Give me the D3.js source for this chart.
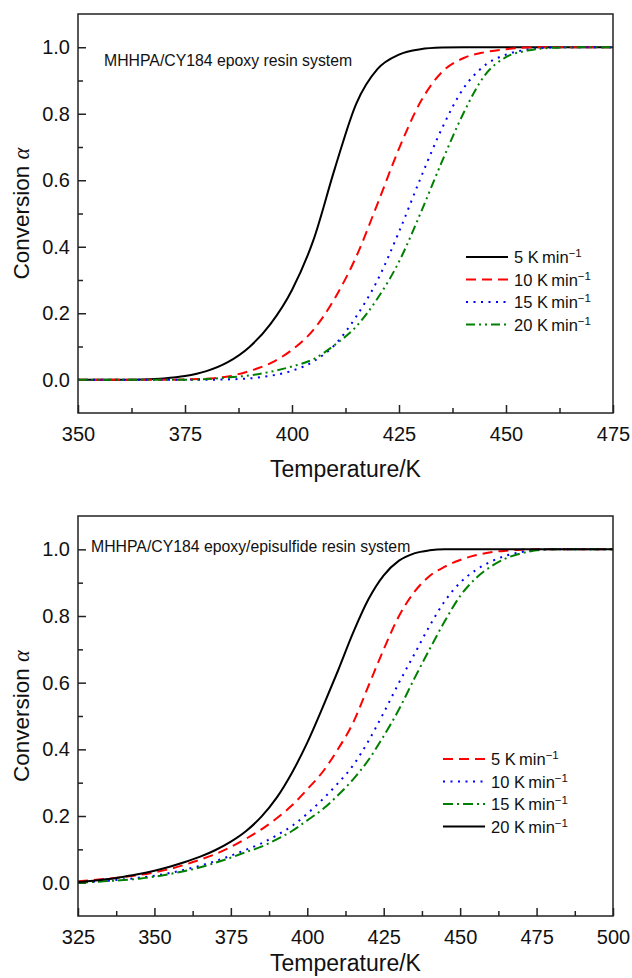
<!DOCTYPE html>
<html>
<head>
<meta charset="utf-8">
<script src="https://cdn.jsdelivr.net/npm/d3@7"></script>
<style>
  html, body { margin: 0; padding: 0; background: #fff; }
  text { font-family: "Liberation Sans", Arial, Helvetica, sans-serif; fill: #111; }
</style>
</head>
<body>
<svg id="chart"></svg>
<script>
// ============================================================================
// Data
// ============================================================================

// Top panel: MHHPA/CY184 epoxy resin system
const tempTop = [350, 355, 360, 365, 370, 375, 380, 385, 390, 395, 400, 405, 410,
  415, 420, 425, 430, 435, 440, 445, 450, 455, 460, 465, 470, 475];
const epoxy5 = [0, 0, 0, 0.001, 0.004, 0.011, 0.026, 0.053, 0.098, 0.168, 0.27, 0.42, 0.635,
  0.83, 0.935, 0.978, 0.994, 0.999, 1, 1, 1, 1, 1, 1, 1, 1];
const epoxy10 = [0, 0, 0, 0, 0, 0.001, 0.003, 0.01, 0.026, 0.05, 0.09, 0.15, 0.245,
  0.37, 0.53, 0.695, 0.835, 0.925, 0.967, 0.985, 0.994, 0.999, 1, 1, 1, 1];
const epoxy15 = [0, 0, 0, 0, 0, 0, 0, 0.001, 0.004, 0.012, 0.027, 0.055, 0.105,
  0.19, 0.3, 0.445, 0.605, 0.755, 0.875, 0.945, 0.978, 0.993, 0.999, 1, 1, 1];
const epoxy20 = [0, 0, 0, 0, 0, 0, 0.002, 0.007, 0.013, 0.024, 0.04, 0.062, 0.105,
  0.16, 0.245, 0.355, 0.5, 0.655, 0.8, 0.915, 0.97, 0.99, 0.998, 1, 1, 1];

// Bottom panel: MHHPA/CY184 epoxy/episulfide resin system
const tempBottom = [325, 330, 335, 340, 345, 350, 355, 360, 365, 370, 375, 380, 385,
  390, 395, 400, 405, 410, 415, 420, 425, 430, 435, 440, 445, 450, 455, 460, 465,
  470, 475, 480, 485, 490, 495, 500];
const episulfide5 = [0.004, 0.008, 0.012, 0.017, 0.023, 0.031, 0.041, 0.054, 0.069, 0.086,
  0.107, 0.132, 0.16, 0.193, 0.232, 0.28, 0.332, 0.4, 0.48, 0.59, 0.7, 0.8, 0.872, 0.92,
  0.948, 0.968, 0.982, 0.991, 0.996, 0.999, 1, 1, 1, 1, 1, 1];
const episulfide10 = [0.001, 0.003, 0.006, 0.01, 0.015, 0.021, 0.029, 0.039, 0.051, 0.065,
  0.081, 0.099, 0.118, 0.142, 0.17, 0.207, 0.25, 0.298, 0.352, 0.425, 0.51, 0.6, 0.685,
  0.77, 0.845, 0.9, 0.937, 0.963, 0.981, 0.992, 0.998, 1, 1, 1, 1, 1];
const episulfide15 = [0, 0.002, 0.005, 0.008, 0.012, 0.018, 0.026, 0.035, 0.046, 0.06,
  0.075, 0.092, 0.108, 0.13, 0.155, 0.187, 0.22, 0.262, 0.31, 0.368, 0.44, 0.52, 0.612,
  0.7, 0.785, 0.86, 0.912, 0.948, 0.973, 0.988, 0.997, 1, 1, 1, 1, 1];
const episulfide20 = [0.002, 0.006, 0.011, 0.018, 0.026, 0.036, 0.048, 0.062, 0.078, 0.098,
  0.123, 0.155, 0.198, 0.255, 0.33, 0.42, 0.525, 0.635, 0.75, 0.85, 0.922, 0.966, 0.988,
  0.997, 1, 1, 1, 1, 1, 1, 1, 1, 1, 1, 1, 1];

const rateLabels = ["5", "10", "15", "20"];
const xTicksTop = [350, 375, 400, 425, 450, 475];
const xTicksBottom = [325, 350, 375, 400, 425, 450, 475, 500];
const yTicks = [0, 0.2, 0.4, 0.6, 0.8, 1.0];

// ============================================================================
// Layout and styles
// ============================================================================

const WIDTH = 632, HEIGHT = 978;

const STYLES = {
  black: { color: "#000000", dash: null },
  red: { color: "#ff0000", dash: "10,6" },
  blue: { color: "#0000ff", dash: "2,5.5" },
  greenDDot: { color: "#008000", dash: "9,4,2,4,2,4" },
  greenDot: { color: "#008000", dash: "10,4,2,4" }
};

const svg = d3.select("#chart")
  .attr("width", WIDTH)
  .attr("height", HEIGHT);

drawPanel({
  left: 78, right: 613, top: 14, bottom: 413,
  xDomain: [350, 475], xTicks: xTicksTop,
  temps: tempTop,
  series: [
    { values: epoxy5, label: rateLabels[0], style: STYLES.black },
    { values: epoxy10, label: rateLabels[1], style: STYLES.red },
    { values: epoxy15, label: rateLabels[2], style: STYLES.blue },
    { values: epoxy20, label: rateLabels[3], style: STYLES.greenDDot }
  ],
  legend: { x: 466, y: 257 },
  note: { x: 104, y: 66, text: "MHHPA/CY184 epoxy resin system" },
  titleOffset: 64
});

drawPanel({
  left: 78, right: 613, top: 516, bottom: 916,
  xDomain: [325, 500], xTicks: xTicksBottom,
  temps: tempBottom,
  series: [
    { values: episulfide5, label: rateLabels[0], style: STYLES.red },
    { values: episulfide10, label: rateLabels[1], style: STYLES.blue },
    { values: episulfide15, label: rateLabels[2], style: STYLES.greenDot },
    { values: episulfide20, label: rateLabels[3], style: STYLES.black }
  ],
  legend: { x: 443, y: 759 },
  note: { x: 91, y: 552, text: "MHHPA/CY184 epoxy/episulfide resin system" },
  titleOffset: 55
});

// ============================================================================
// Drawing
// ============================================================================

function drawPanel(p) {
  const g = svg.append("g");

  const x = d3.scaleLinear().domain(p.xDomain).range([p.left, p.right]);
  const y = d3.scaleLinear().domain([-0.1, 1.1]).range([p.bottom, p.top]);

  // minor ticks halfway between majors
  const xMinor = p.xTicks.slice(0, -1).map((t, i) => (t + p.xTicks[i + 1]) / 2);
  const yMinor = yTicks.slice(0, -1).map((t, i) => (t + yTicks[i + 1]) / 2);

  const xAxis = g.append("g")
    .attr("transform", `translate(0,${p.bottom})`)
    .call(d3.axisBottom(x).tickValues(p.xTicks).tickFormat(d3.format("d"))
      .tickSizeInner(-8).tickSizeOuter(0).tickPadding(14));
  g.append("g")
    .attr("transform", `translate(0,${p.bottom})`)
    .call(d3.axisBottom(x).tickValues(xMinor).tickFormat("")
      .tickSizeInner(-5).tickSizeOuter(0));

  const yAxis = g.append("g")
    .attr("transform", `translate(${p.left},0)`)
    .call(d3.axisLeft(y).tickValues(yTicks).tickFormat(d3.format(".1f"))
      .tickSizeInner(-8).tickSizeOuter(0).tickPadding(8));
  g.append("g")
    .attr("transform", `translate(${p.left},0)`)
    .call(d3.axisLeft(y).tickValues(yMinor).tickFormat("")
      .tickSizeInner(-5).tickSizeOuter(0));

  g.selectAll(".domain").remove();
  g.selectAll(".tick line").attr("stroke", "#222").attr("stroke-width", 1.5);
  xAxis.selectAll(".tick text").style("font-size", "20px").attr("fill", "#111");
  yAxis.selectAll(".tick text").style("font-size", "20px").attr("fill", "#111");

  // curves
  const line = d3.line()
    .x((d, i) => x(p.temps[i]))
    .y(d => y(d))
    .curve(d3.curveMonotoneX);

  p.series.forEach(s => {
    g.append("path")
      .datum(s.values)
      .attr("d", line)
      .attr("fill", "none")
      .attr("stroke", s.style.color)
      .attr("stroke-width", 2)
      .attr("stroke-dasharray", s.style.dash);
  });

  // frame
  g.append("rect")
    .attr("x", p.left).attr("y", p.top)
    .attr("width", p.right - p.left).attr("height", p.bottom - p.top)
    .attr("fill", "none").attr("stroke", "#222").attr("stroke-width", 1.5);

  // axis titles
  g.append("text")
    .attr("x", (p.left + p.right) / 2)
    .attr("y", p.bottom + p.titleOffset)
    .attr("text-anchor", "middle")
    .style("font-size", "23px")
    .text("Temperature/K");

  const yt = g.append("text")
    .attr("transform", `translate(29,${(p.top + p.bottom) / 2}) rotate(-90)`)
    .attr("text-anchor", "middle")
    .style("font-size", "22.5px");
  yt.append("tspan").text("Conversion ");
  yt.append("tspan")
    .style("font-family", "'Liberation Serif', 'Times New Roman', serif")
    .style("font-style", "italic")
    .text("α");

  // annotation
  g.append("text")
    .attr("x", p.note.x).attr("y", p.note.y)
    .style("font-size", "15.8px")
    .text(p.note.text);

  // legend
  const rowGap = 22.5;
  p.series.forEach((s, i) => {
    const ly = p.legend.y + i * rowGap;
    g.append("line")
      .attr("x1", p.legend.x).attr("x2", p.legend.x + 42)
      .attr("y1", ly).attr("y2", ly)
      .attr("stroke", s.style.color)
      .attr("stroke-width", 2)
      .attr("stroke-dasharray", s.style.dash);
    const t = g.append("text")
      .attr("x", p.legend.x + 48)
      .attr("y", ly + 6)
      .style("font-size", "16.5px");
    t.append("tspan").text(`${s.label} K\u2009min`);
    t.append("tspan")
      .attr("dy", -6)
      .style("font-size", "11.5px")
      .text("\u22121");
  });
}
</script>
</body>
</html>
